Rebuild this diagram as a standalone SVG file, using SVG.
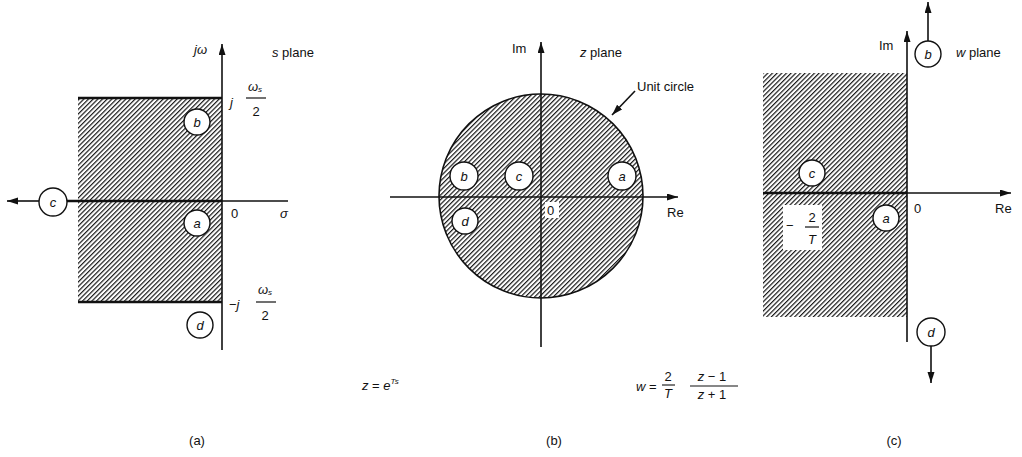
<svg xmlns="http://www.w3.org/2000/svg" width="1022" height="457" viewBox="0 0 1022 457">
<defs>
<pattern id="hatch" width="3.3" height="3.3" patternUnits="userSpaceOnUse" patternTransform="rotate(45)">
<line x1="0.6" y1="0" x2="0.6" y2="3.3" stroke="#1a1a1a" stroke-width="1.2"/>
</pattern>
<marker id="arr" markerUnits="userSpaceOnUse" markerWidth="12" markerHeight="8" refX="11" refY="3.5" orient="auto">
<path d="M0,0 L11,3.5 L0,7 Z" fill="#111"/>
</marker>
<style>
.ax{stroke:#111;stroke-width:1.6;fill:none}
.bold{stroke:#111;stroke-width:2.4;fill:none}
.t{font-family:"Liberation Sans",Arial,sans-serif;font-size:13px;fill:#111}
.i{font-style:italic}
.node circle{fill:#fff;stroke:#111;stroke-width:1.4}
.node text{font-family:"Liberation Sans",Arial,sans-serif;font-size:13px;font-style:italic;fill:#111;text-anchor:middle}
.c{text-anchor:middle}
</style>
</defs>
<rect width="1022" height="457" fill="#fff"/>

<!-- regions -->
<g id="regions">
<rect x="78" y="98" width="144" height="204" fill="url(#hatch)"/>
<circle cx="541" cy="196" r="102" fill="url(#hatch)" stroke="#111" stroke-width="1.6"/>
<rect x="763" y="73" width="144" height="244" fill="url(#hatch)"/>
</g>

<g id="connectors">
<!-- panel a -->
<line class="ax" x1="222" y1="350" x2="222" y2="44" marker-end="url(#arr)"/>
<line class="bold" x1="78" y1="98" x2="222" y2="98"/>
<line class="bold" x1="78" y1="302" x2="222" y2="302"/>
<line class="bold" x1="67" y1="201" x2="222" y2="201"/>
<line class="ax" x1="222" y1="201" x2="288" y2="201"/>
<line class="ax" x1="39" y1="201" x2="7" y2="201" marker-end="url(#arr)"/>
<!-- panel b -->
<line class="ax" x1="390" y1="197" x2="678" y2="197" marker-end="url(#arr)"/>
<line class="ax" x1="541" y1="347" x2="541" y2="42" marker-end="url(#arr)"/>
<line class="ax" x1="635" y1="91" x2="612" y2="115" stroke-width="1.3" marker-end="url(#arr)"/>
<!-- panel c -->
<line class="ax" x1="907" y1="342" x2="907" y2="31" marker-end="url(#arr)"/>
<line class="bold" x1="763" y1="193" x2="907" y2="193"/>
<line class="ax" x1="907" y1="193" x2="1011" y2="193" marker-end="url(#arr)"/>
<line class="ax" x1="928" y1="41" x2="928" y2="2" marker-end="url(#arr)"/>
<line class="ax" x1="931" y1="346" x2="931" y2="383" marker-end="url(#arr)"/>
</g>

<!-- white label backgrounds -->
<rect x="545" y="202" width="14" height="16" fill="#fff"/>
<rect x="783" y="205" width="39" height="45" fill="#fff"/>

<!-- nodes panel a -->
<g id="a-b" class="node"><circle cx="197" cy="122" r="13"/><text x="197" y="127">b</text></g>
<g id="a-a" class="node"><circle cx="197" cy="223" r="13"/><text x="197" y="228">a</text></g>
<g id="a-d" class="node"><circle cx="200" cy="325" r="13"/><text x="200" y="330">d</text></g>
<g id="a-c" class="node"><circle cx="53" cy="202" r="14"/><text x="53" y="207">c</text></g>
<!-- nodes panel b -->
<g id="b-b" class="node"><circle cx="464" cy="176" r="14"/><text x="464" y="181">b</text></g>
<g id="b-c" class="node"><circle cx="519" cy="176" r="14"/><text x="519" y="181">c</text></g>
<g id="b-a" class="node"><circle cx="622" cy="176" r="14"/><text x="622" y="181">a</text></g>
<g id="b-d" class="node"><circle cx="465" cy="221" r="13"/><text x="465" y="226">d</text></g>
<!-- nodes panel c -->
<g id="c-b" class="node"><circle cx="928" cy="54" r="13"/><text x="928" y="59">b</text></g>
<g id="c-c" class="node"><circle cx="812" cy="173" r="13"/><text x="812" y="178">c</text></g>
<g id="c-a" class="node"><circle cx="886" cy="218" r="13"/><text x="886" y="223">a</text></g>
<g id="c-d" class="node"><circle cx="931" cy="332" r="14"/><text x="931" y="337">d</text></g>

<!-- labels panel a -->
<g id="labels-a">
<text class="t i" x="194" y="54">jω</text>
<text class="t" x="272" y="57"><tspan class="i">s</tspan> plane</text>
<text class="t i" x="230" y="107">j</text>
<text class="t i c" x="255" y="91">ω<tspan font-size="8" dy="1">s</tspan></text>
<line x1="246" y1="98" x2="266" y2="98" stroke="#111" stroke-width="1.2"/>
<text class="t c" x="256" y="116">2</text>
<text class="t" x="231" y="218">0</text>
<text class="t i" x="280" y="218">σ</text>
<text class="t" x="229" y="309">−<tspan class="i">j</tspan></text>
<text class="t i c" x="265" y="294">ω<tspan font-size="8" dy="1">s</tspan></text>
<line x1="256" y1="302" x2="276" y2="302" stroke="#111" stroke-width="1.2"/>
<text class="t c" x="265" y="320">2</text>
</g>

<!-- labels panel b -->
<g id="labels-b">
<text class="t" x="512" y="53">Im</text>
<text class="t" x="580" y="57"><tspan class="i">z</tspan> plane</text>
<text class="t" x="637" y="91">Unit circle</text>
<text class="t" x="547" y="215">0</text>
<text class="t" x="667" y="217">Re</text>
</g>

<!-- labels panel c -->
<g id="labels-c">
<text class="t" x="879" y="50">Im</text>
<text class="t" x="956" y="57"><tspan class="i">w</tspan> plane</text>
<text class="t" x="914" y="213">0</text>
<text class="t" x="995" y="213">Re</text>
<text class="t" x="786" y="230">−</text>
<text class="t c" x="812" y="222">2</text>
<line x1="805" y1="227" x2="819" y2="227" stroke="#111" stroke-width="1.2"/>
<text class="t i c" x="812" y="244">T</text>
</g>

<!-- formulas -->
<g id="formulas">
<text class="t" x="362" y="390" font-size="11"><tspan class="i">z</tspan> = <tspan class="i">e</tspan><tspan class="i" font-size="8" dy="-6">Ts</tspan></text>
<text class="t" x="636" y="391" font-size="11"><tspan class="i">w</tspan> =</text>
<text class="t c" x="668" y="381" font-size="12">2</text>
<line x1="662" y1="385" x2="675" y2="385" stroke="#111" stroke-width="1.1"/>
<text class="t i c" x="668" y="398" font-size="12">T</text>
<text class="t c" x="712" y="381" font-size="12"><tspan class="i">z</tspan> − 1</text>
<line x1="690" y1="386" x2="738" y2="386" stroke="#111" stroke-width="1.1"/>
<text class="t c" x="712" y="399" font-size="12"><tspan class="i">z</tspan> + 1</text>
</g>

<!-- captions -->
<g id="captions">
<text class="t c" x="197" y="445" font-size="12">(a)</text>
<text class="t c" x="554" y="445" font-size="12">(b)</text>
<text class="t c" x="894" y="445" font-size="12">(c)</text>
</g>
</svg>
